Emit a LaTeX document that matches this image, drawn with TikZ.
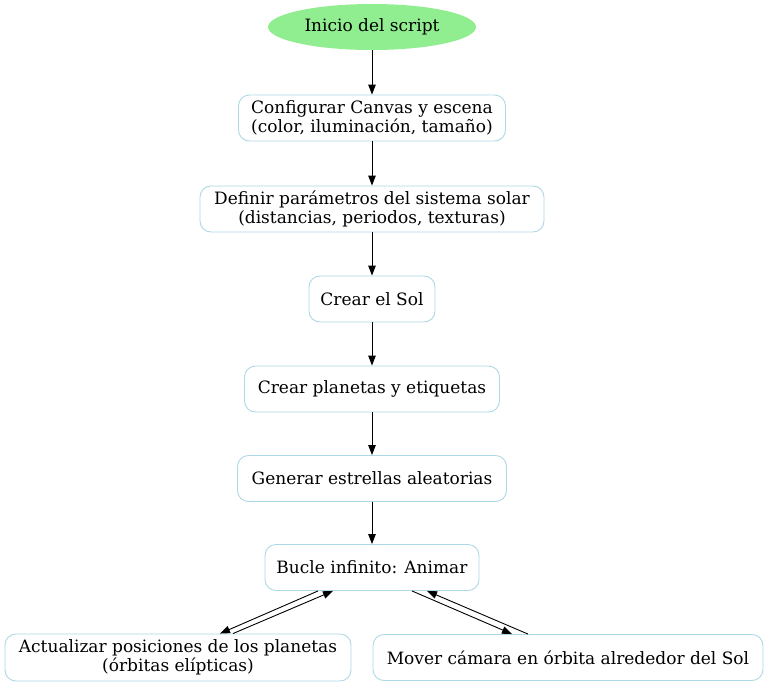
\documentclass[tikz,border=0pt]{standalone}
\usepackage{fontspec}
\setmainfont{DejaVu Serif}
\usetikzlibrary{shapes.geometric,arrows.meta}
\definecolor{boxline}{HTML}{ADD8E6}
\definecolor{startfill}{HTML}{90EE90}
\tikzset{
  stepbox/.style={draw=boxline, line width=0.9pt, rounded corners=11pt, fill=white,
    minimum height=46pt, inner xsep=4pt, inner ysep=2pt, align=center,
    font=\fontsize{17pt}{19.5pt}\selectfont},
  startnode/.style={ellipse, fill=startfill, minimum width=208pt, minimum height=46pt,
    inner sep=0pt, font=\fontsize{17pt}{19.5pt}\selectfont},
  flow/.style={-{Triangle[length=10pt,width=7.5pt]}, line width=0.9pt, black}
}
\begin{document}
\begin{tikzpicture}[x=1pt,y=-1pt]
\useasboundingbox (0,0) rectangle (768,686);
\node[startnode] (start) at (372,27) {Inicio del script};
\node[stepbox, minimum width=267pt] (cfg) at (372,118) {Configurar Canvas y escena\\(color, iluminación, tamaño)};
\node[stepbox, minimum width=344pt] (def) at (372,209) {Definir parámetros del sistema solar\\(distancias, periodos, texturas)};
\node[stepbox, minimum width=126pt] (sol) at (372,299) {Crear el Sol};
\node[stepbox, minimum width=255pt] (plan) at (372,389) {Crear planetas y etiquetas};
\node[stepbox, minimum width=269pt] (est) at (372,478.5) {Generar estrellas aleatorias};
\node[stepbox, minimum width=214pt] (bucle) at (372,567.5) {Bucle infinito: Animar};
\node[stepbox, minimum width=346pt, minimum height=47pt] (act) at (178,657.5) {Actualizar posiciones de los planetas\\(órbitas elípticas)};
\node[stepbox, minimum width=390pt] (mov) at (568,657.5) {Mover cámara en órbita alrededor del Sol};
\draw[flow] (start) -- (cfg);
\draw[flow] (cfg) -- (def);
\draw[flow] (def) -- (sol);
\draw[flow] (sol) -- (plan);
\draw[flow] (plan) -- (est);
\draw[flow] (est) -- (bucle);
\draw[flow] ([xshift=-54pt]bucle.south) -- ([xshift=42pt]act.north);
\draw[flow] ([xshift=55pt]act.north) -- ([xshift=-39pt]bucle.south);
\draw[flow] ([xshift=40pt]bucle.south) -- ([xshift=-56pt]mov.north);
\draw[flow] ([xshift=-40pt]mov.north) -- ([xshift=55pt]bucle.south);
\end{tikzpicture}
\end{document}
